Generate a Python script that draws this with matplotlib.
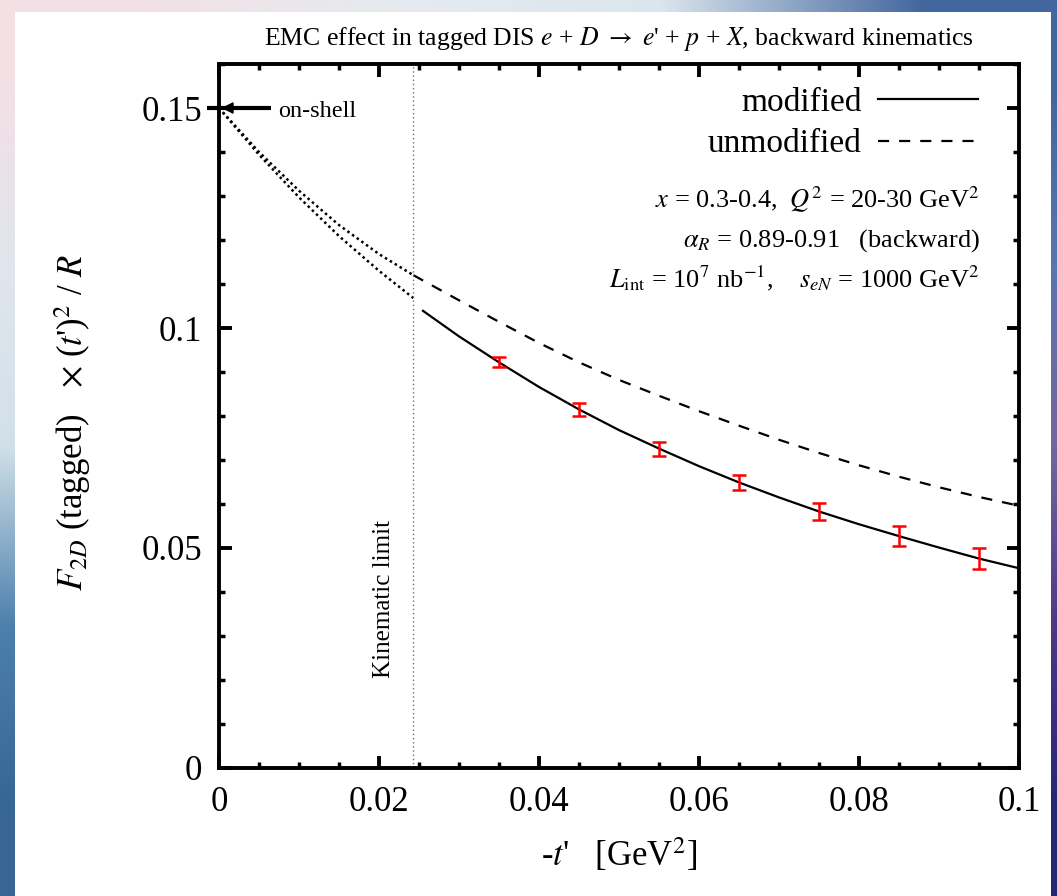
import matplotlib
matplotlib.use("Agg")
import matplotlib.pyplot as plt
from matplotlib.patches import Rectangle
import numpy as np

plt.rcParams['font.family'] = ['Liberation Serif', 'DejaVu Serif']
plt.rcParams['mathtext.fontset'] = 'stix'

# curves below the kinematic limit (dotted)
t_near = [0.0, 0.005, 0.01, 0.015, 0.02, 0.0243]
mod_near = [0.150, 0.1394, 0.1297, 0.1209, 0.1130, 0.1068]
unmod_near = [0.150, 0.1400, 0.1312, 0.1234, 0.1168, 0.1120]

# modified (solid)
t_mod = [0.0255, 0.03, 0.035, 0.04, 0.045, 0.05, 0.055, 0.06, 0.065,
         0.07, 0.075, 0.08, 0.085, 0.09, 0.095, 0.1]
mod_far = [0.1039, 0.0981, 0.0922, 0.0866, 0.0815, 0.0768, 0.0726, 0.0686,
           0.0649, 0.0615, 0.0583, 0.0554, 0.0527, 0.0501, 0.0476, 0.0454]

# unmodified (dashed)
t_unmod = [0.0243, 0.03, 0.035, 0.04, 0.045, 0.05, 0.055, 0.06, 0.065,
           0.07, 0.075, 0.08, 0.085, 0.09, 0.095, 0.1]
unmod_far = [0.1120, 0.1063, 0.1014, 0.0966, 0.0922, 0.0882, 0.0846, 0.0811,
             0.0778, 0.0746, 0.0716, 0.0688, 0.0662, 0.0638, 0.0616, 0.0596]

# pseudo-data with errors
t_pts = [0.035, 0.045, 0.055, 0.065, 0.075, 0.085, 0.095]
f_pts = [0.0922, 0.0815, 0.0726, 0.0649, 0.0583, 0.0527, 0.0476]
f_err = [0.0011, 0.0014, 0.0016, 0.0018, 0.0020, 0.0022, 0.0023]

t_kin = 0.0243
f_onshell = 0.15

fig = plt.figure(figsize=(10.57, 8.96), dpi=100)

# slide background behind the white panel
bg = fig.add_axes([0, 0, 1, 1], zorder=-10)
grid = np.array([
    [[0.95, 0.88, 0.90], [0.90, 0.92, 0.94], [0.86, 0.90, 0.93], [0.26, 0.40, 0.62]],
    [[0.88, 0.90, 0.93], [0.88, 0.91, 0.94], [0.80, 0.85, 0.90], [0.36, 0.46, 0.68]],
    [[0.82, 0.88, 0.91], [0.80, 0.86, 0.90], [0.60, 0.60, 0.75], [0.45, 0.40, 0.62]],
    [[0.30, 0.50, 0.68], [0.30, 0.50, 0.68], [0.35, 0.30, 0.55], [0.30, 0.22, 0.52]],
    [[0.22, 0.40, 0.58], [0.22, 0.40, 0.58], [0.18, 0.18, 0.46], [0.15, 0.15, 0.45]],
])
bg.imshow(grid, aspect='auto', interpolation='bilinear', extent=[0, 1, 0, 1])
bg.set_axis_off()
fig.patches.append(Rectangle((15 / 1057, 0), 1036 / 1057, 1 - 12 / 896,
                             transform=fig.transFigure, facecolor='white',
                             edgecolor='none', zorder=-5))

ax = fig.add_axes([219 / 1057, 1 - 768 / 896, 800 / 1057, 704 / 896])
ax.set_facecolor('none')

ax.plot(t_near, mod_near, color='black', lw=1.8, ls=(0, (1, 1.3)))
ax.plot(t_near, unmod_near, color='black', lw=1.8, ls=(0, (1, 1.3)))
ax.plot(t_mod, mod_far, color='black', lw=1.6, label='modified')
ax.plot(t_unmod, unmod_far, color='black', lw=1.6, ls=(0, (5, 4.5)),
        label='unmodified')
ax.errorbar(t_pts, f_pts, yerr=f_err, fmt='none', ecolor='red', elinewidth=1.8,
            capsize=5, capthick=1.8, zorder=4)

ax.axvline(t_kin, color='0.45', lw=1.0, ls=(0, (1, 2)))
ax.text(t_kin - 0.0037, 0.0383, 'Kinematic limit', rotation=90, fontsize=18,
        ha='center', va='center')

# on-shell marker
ax.plot([-0.0015, 0.0065], [f_onshell, f_onshell], color='black', lw=3,
        clip_on=False, solid_capstyle='butt')
ax.annotate('', xy=(0.0003, f_onshell), xytext=(0.003, f_onshell),
            arrowprops=dict(arrowstyle='-|>', color='black', lw=1,
                            mutation_scale=18, shrinkA=0, shrinkB=0))
ax.text(0.0074, 0.1493, 'on-shell', fontsize=17.5, ha='left', va='center')

ax.set_xlim(0, 0.1)
ax.set_ylim(0, 0.16)
ax.set_xticks(np.arange(0, 0.1001, 0.02))
ax.set_xticklabels(['0', '0.02', '0.04', '0.06', '0.08', '0.1'])
ax.set_xticks(np.arange(0, 0.1001, 0.005), minor=True)
ax.set_yticks([0, 0.05, 0.1, 0.15])
ax.set_yticklabels(['0', '0.05', '0.1', '0.15'])
ax.set_yticks(np.arange(0, 0.1601, 0.01), minor=True)
ax.tick_params(which='both', direction='in', top=True, right=True,
               labelsize=25)
ax.tick_params(axis='x', which='major', pad=13)
ax.tick_params(axis='y', which='major', pad=12)
ax.tick_params(which='major', length=9, width=2.8)
ax.tick_params(which='minor', length=4.5, width=2.5)
for s in ax.spines.values():
    s.set_linewidth(2.8)

ax.set_xlabel(r"-$t$'   [GeV$^2$]", fontsize=25, labelpad=12)
ax.set_ylabel(r"$F_{2D}$ (tagged)   $\times$ ($t$')$^2$ / $R$", fontsize=25)
ax.yaxis.set_label_coords(-0.158, 0.49)
ax.set_title(r"EMC effect in tagged DIS $e$ + $D$ $\rightarrow$ $e$' + $p$ + $X$, backward kinematics",
             fontsize=18.5, pad=14)

leg = ax.legend(loc='upper right', bbox_to_anchor=(0.966, 0.986), fontsize=24,
                frameon=False, markerfirst=False, handlelength=3.0,
                handletextpad=0.5, labelspacing=0.33, borderaxespad=0)

ax.text(0.0951, 0.1291, r"$x$ = 0.3-0.4,  $Q^2$ = 20-30 GeV$^2$", fontsize=19,
        ha='right', va='center')
ax.text(0.0951, 0.1198, r"$\alpha_R$ = 0.89-0.91   (backward)", fontsize=19,
        ha='right', va='center')
ax.text(0.0951, 0.1114, r"$L_{\rm int}$ = 10$^7$ nb$^{-1}$,    $s_{eN}$ = 1000 GeV$^2$",
        fontsize=19, ha='right', va='center')

fig.savefig('out.png', dpi=100)
